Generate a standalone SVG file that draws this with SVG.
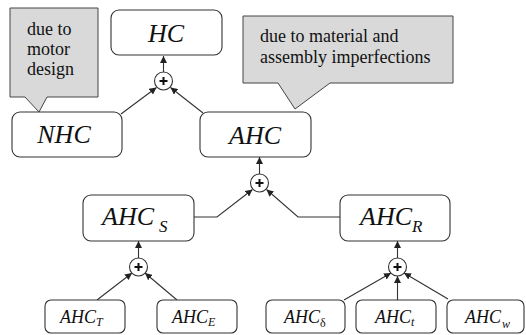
<svg xmlns="http://www.w3.org/2000/svg" width="526" height="335" viewBox="0 0 526 335" font-family="'Liberation Serif', 'DejaVu Serif', serif">
  <defs>
    <marker id="arr" viewBox="0 0 10 10" refX="10" refY="5" markerWidth="7" markerHeight="7" markerUnits="userSpaceOnUse" orient="auto">
      <path d="M0,0 L10,5 L0,10 z" fill="#222"/>
    </marker>
    <style>
      .box { fill: #fff; stroke: #333; stroke-width: 1.1; }
      .call { fill: #d9d9d9; stroke: #444; stroke-width: 1; }
      .sum { fill: #fff; stroke: #333; stroke-width: 1.1; }
      .plus { stroke: #111; stroke-width: 2; fill: none; }
      .ln { fill: none; stroke: #333; stroke-width: 1.1; }
      .ar { marker-end: url(#arr); }
      .t { font-family: 'Liberation Serif', 'DejaVu Serif', serif; fill: #111; }
      .big { font-size: 26px; font-style: italic; }
      .sml { font-size: 18px; font-style: italic; }
      .sub { font-size: 17px; font-style: italic; }
      .ssub { font-size: 12px; font-style: italic; }
      .up { font-style: normal; }
      .note { font-size: 18px; }
    </style>
  </defs>

  <!-- callouts -->
  <g id="note-motor">
    <path class="call" d="M10,8 H98 V97 H47 L39,112 L25,97 H10 Z"/>
    <text class="t note" x="27" y="35">due to</text>
    <text class="t note" x="27" y="55">motor</text>
    <text class="t note" x="27" y="75">design</text>
  </g>
  <g id="note-material">
    <path class="call" d="M243,16 H453 V83 H330 L295,109 L278,83 H243 Z"/>
    <text class="t note" x="260" y="42">due to material and</text>
    <text class="t note" x="260" y="63">assembly imperfections</text>
  </g>

  <!-- connectors -->
  <g id="connectors">
    <line class="ln ar" x1="163.5" y1="72" x2="163.5" y2="56"/>
    <line class="ln ar" x1="121" y1="114" x2="156.5" y2="87.5"/>
    <line class="ln ar" x1="203" y1="113" x2="170.5" y2="87.5"/>

    <line class="ln ar" x1="259.5" y1="174" x2="259.5" y2="157"/>
    <polyline class="ln ar" points="194,217 217,217 252.5,189.5"/>
    <polyline class="ln ar" points="340,217 298,217 266.5,189.5"/>

    <line class="ln ar" x1="138.5" y1="258" x2="138.5" y2="241"/>
    <line class="ln ar" x1="97" y1="300" x2="132" y2="273"/>
    <line class="ln ar" x1="177" y1="300" x2="145" y2="273"/>

    <line class="ln ar" x1="397.5" y1="258" x2="397.5" y2="241"/>
    <line class="ln ar" x1="344" y1="300" x2="391" y2="273"/>
    <line class="ln ar" x1="397.5" y1="300" x2="397.5" y2="276"/>
    <line class="ln ar" x1="448" y1="299" x2="404" y2="273"/>
  </g>

  <!-- summing junctions -->
  <g id="sum-hc">
    <circle class="sum" cx="163.5" cy="81" r="9"/>
    <path class="plus" d="M159.5,81 H167.5 M163.5,77 V85"/>
  </g>
  <g id="sum-ahc">
    <circle class="sum" cx="259.5" cy="183" r="9"/>
    <path class="plus" d="M255.5,183 H263.5 M259.5,179 V187"/>
  </g>
  <g id="sum-ahcs">
    <circle class="sum" cx="138.5" cy="267" r="9"/>
    <path class="plus" d="M134.5,267 H142.5 M138.5,263 V271"/>
  </g>
  <g id="sum-ahcr">
    <circle class="sum" cx="397.5" cy="267" r="9"/>
    <path class="plus" d="M393.5,267 H401.5 M397.5,263 V271"/>
  </g>

  <!-- nodes -->
  <g id="hc">
    <rect class="box" x="111" y="10" width="111" height="45" rx="8"/>
    <text class="t big" x="166" y="42" text-anchor="middle">HC</text>
  </g>
  <g id="nhc">
    <rect class="box" x="12" y="112" width="110" height="45" rx="8"/>
    <text class="t big" x="64" y="143" text-anchor="middle">NHC</text>
  </g>
  <g id="ahc">
    <rect class="box" x="200" y="112" width="111" height="45" rx="8"/>
    <text class="t big" x="255" y="144" text-anchor="middle">AHC</text>
  </g>
  <g id="ahc-s">
    <rect class="box" x="83" y="195" width="111" height="46" rx="8"/>
    <text class="t big" x="102" y="225">AHC<tspan class="sub" dx="5" dy="7">S</tspan></text>
  </g>
  <g id="ahc-r">
    <rect class="box" x="340" y="195" width="110" height="46" rx="8"/>
    <text class="t big" x="360" y="225">AHC<tspan class="sub" dx="0" dy="7">R</tspan></text>
  </g>
  <g id="ahc-t">
    <rect class="box" x="45" y="300" width="80" height="33" rx="6"/>
    <text class="t sml" x="60" y="323">AHC<tspan class="ssub" dy="3">T</tspan></text>
  </g>
  <g id="ahc-e">
    <rect class="box" x="157" y="300" width="80" height="33" rx="6"/>
    <text class="t sml" x="172" y="323">AHC<tspan class="ssub" dy="3">E</tspan></text>
  </g>
  <g id="ahc-delta">
    <rect class="box" x="266" y="300" width="79" height="33" rx="6"/>
    <text class="t sml" x="284" y="323">AHC<tspan class="ssub up" dy="4">δ</tspan></text>
  </g>
  <g id="ahc-t-small">
    <rect class="box" x="356" y="300" width="80" height="33" rx="6"/>
    <text class="t sml" x="375" y="323">AHC<tspan class="ssub" dy="3">t</tspan></text>
  </g>
  <g id="ahc-w">
    <rect class="box" x="447" y="300" width="77" height="33" rx="6"/>
    <text class="t sml" x="465" y="323">AHC<tspan class="ssub" dx="1" dy="5">w</tspan></text>
  </g>
</svg>
